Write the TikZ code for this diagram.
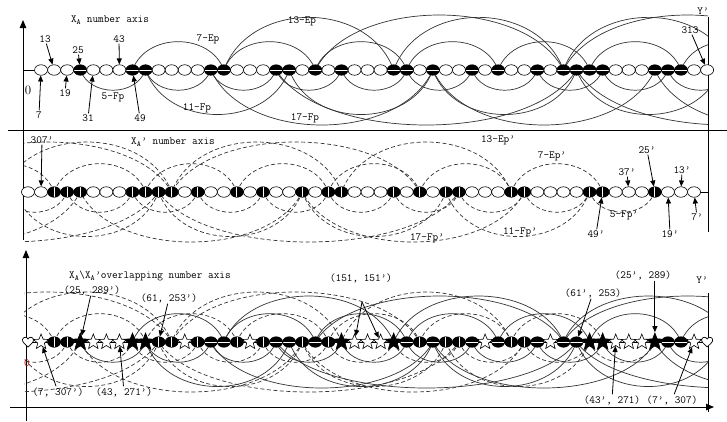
\documentclass[tikz,border=0pt]{standalone}
\usepackage{fontspec}
\usepackage{tikz}
\usetikzlibrary{arrows.meta,positioning,calc,shapes.geometric}

% prime p / index of its first composite multiple / side (1 below = Fp, -1 above = Ep)
\newcommand{\primechains}{5/4/1, 7/8/-1, 11/9/1, 13/15/-1, 17/14/1, 19/22/-1, 23/19/1}
% index k of 6k+1 for the primes and the composites up to 313
\newcommand{\primeidx}{1,2,3,5,6,7,10,11,12,13,16,17,18,21,23,25,26,27,30,32,33,35,37,38,40,45,46,47,51,52}
\newcommand{\compidx}{4,8,9,14,15,19,20,22,24,28,29,31,34,36,39,41,42,43,44,48,49,50}

\tikzset{
    oval/.style={draw, ellipse, fill=white, inner sep=0pt, minimum width=13bp, minimum height=10.5bp, line width=0.6bp},
    ovalH/.style={oval, fill=black, path picture={\draw[white, line width=0.9bp] (path picture bounding box.west) -- (path picture bounding box.east);}},
    ovalV/.style={oval, fill=black, path picture={\draw[white, line width=0.9bp] (path picture bounding box.north) -- (path picture bounding box.south);}},
    wstar/.style={draw, star, star points=5, star point ratio=2.3, minimum size=16bp, inner sep=0pt, fill=white, line width=0.6bp},
    bstar/.style={wstar, fill=black, minimum size=18bp},
    heart/.style={minimum width=14bp, minimum height=13bp, inner sep=0pt,
        path picture={\draw[fill=white, line width=0.7bp, shift={(path picture bounding box.center)}]
            (0bp,-5bp) .. controls (-3bp,-2bp) and (-6bp,0bp) .. (-5.5bp,2.5bp)
            .. controls (-5bp,5.2bp) and (-1bp,5.5bp) .. (0bp,3bp)
            .. controls (1bp,5.5bp) and (5bp,5.2bp) .. (5.5bp,2.5bp)
            .. controls (6bp,0bp) and (3bp,-2bp) .. (0bp,-5bp);}},
    lab/.style={font=\ttfamily\fontsize{11}{11}\selectfont, inner sep=1bp},
    lbl/.style={-{Triangle[length=6bp,width=5bp]}, line width=0.8bp},
    axisline/.style={line width=0.9bp},
    axisarrow/.style={axisline, -{Triangle[length=8bp,width=6.5bp]}},
    arcline/.style={line width=0.7bp, draw=black!80},
    dasharc/.style={arcline, dash pattern=on 4bp off 2.5bp},
}

\begin{document}
\begin{tikzpicture}[x=1bp, y=-1bp]
    \useasboundingbox (0,0) rectangle (727,421);

    % places on the axes: pa, pc from the left, pm, pd mirrored from the right
    \foreach \i in {0,...,80} {
        \coordinate (pa\i) at (28+13.06*\i, 70);
        \coordinate (pm\i) at (707.1-13.06*\i, 192);
        \coordinate (pc\i) at (28+13.06*\i, 342);
        \coordinate (pd\i) at (707.1-13.06*\i, 342);
    }

    % frame and axes
    \draw[axisarrow] (23,130) -- (23,20);
    \draw[axisline] (8,130) -- (727,130);
    \draw[axisline] (708,17) -- (708,232);
    \draw[axisline] (23,130) -- (23,240);
    \draw[axisarrow] (26,421) -- (26,250);
    \draw[axisarrow] (10,407) -- (714,407);
    \draw[axisline] (708,293) -- (708,412);
    \draw[line width=0.6bp] (23,70) -- (708,70);
    \draw[line width=0.6bp] (23,192) -- (708,192);
    \draw[line width=0.6bp] (26,342) -- (708,342);

    % arcs between the multiples of each prime
    \foreach \pre/\hmax/\dir/\sty/\ya/\yb in {pa/55/1/arcline/10/128, pm/50/-1/dasharc/132/252, pc/46/1/arcline/258/405, pd/50/-1/dasharc/258/405} {
        \begin{scope}
            \clip (24,\ya) rectangle (708,\yb);
            \foreach \p/\s/\side in \primechains {
                \pgfmathsetmacro{\w}{0.15*13.06*\p*\dir}
                \pgfmathsetmacro{\hh}{4/3*\side*min(0.31*13.06*\p,\hmax)}
                \foreach \k in {0,...,10} {
                    \pgfmathtruncatemacro{\ka}{\s+\k*\p}
                    \pgfmathtruncatemacro{\kb}{\ka+\p}
                    \ifnum\ka<53
                        \draw[\sty] (\pre\ka) .. controls +(\w,\hh) and +(-\w,\hh) .. (\pre\kb);
                    \fi
                }
            }
        \end{scope}
    }

    % X_A number axis
    \foreach \i in \primeidx \node[oval] (t\i) at (pa\i) {};
    \foreach \i in \compidx \node[ovalH] (t\i) at (pa\i) {};

    % X_A' number axis
    \foreach \i in \primeidx \node[oval] (m\i) at (pm\i) {};
    \foreach \i in \compidx \node[ovalV] (m\i) at (pm\i) {};

    % overlapping number axis
    \node[heart] (b0) at (pc0) {};
    \node[heart] (b52) at (pc52) {};
    \foreach \i in {1,5,6,7,12,17,25,26,27,35,40,45,46,47,51} \node[wstar] (b\i) at (pc\i) {};
    \foreach \i in {4,8,9,24,28,43,44,48} \node[bstar] (b\i) at (pc\i) {};
    \foreach \i in {14,15,19,20,22,29,31,34,36,39,41,42,49,50} \node[ovalH] (b\i) at (pc\i) {};
    \foreach \i in {2,3,10,11,13,16,18,21,23,30,32,33,37,38} \node[ovalV] (b\i) at (pc\i) {};

    % labels of the X_A axis
    \node[lab] (titleA) at (110,20) {X\textsubscript{A} number axis};
    \node[lab] (yA) at (703,11) {Y’};
    \node[font=\fontsize{13}{13}\selectfont, inner sep=0pt] (zeroA) at (28,90) {0};
    \node[lab] (n7) at (39,115) {7};
    \node[lab] (n13) at (45,39) {13};
    \node[lab] (n19) at (65,93) {19};
    \node[lab] (n25) at (78,50) {25};
    \node[lab] (n31) at (88,118) {31};
    \node[lab] (n43) at (119,39) {43};
    \node[lab] (n49) at (140,118) {49};
    \node[lab] (n313) at (690,30) {313};
    \draw[lbl] (n7) -- (t1);
    \draw[lbl] (n13) -- (t2);
    \draw[lbl] (n19) -- (t3);
    \draw[lbl] (n25) -- (t4);
    \draw[lbl] (n31) -- (t5);
    \draw[lbl] (n43) -- (t7);
    \draw[lbl] (n49) -- (t8);
    \draw[lbl] (n313) -- (t52);
    \node[lab] (fpA5) at (113,97) {5-Fp};
    \node[lab] (epA7) at (208,39) {7-Ep};
    \node[lab] (fpA11) at (197,108) {11-Fp};
    \node[lab] (epA13) at (302,21) {13-Ep};
    \node[lab] (fpA17) at (305,118) {17-Fp};

    % labels of the X_A' axis
    \node[lab] (titleB) at (173,142) {X\textsubscript{A}’ number axis};
    \node[lab] (n307b) at (42,140) {307’};
    \node[lab] (n13b) at (682,170) {13’};
    \node[lab] (n25b) at (647,150) {25’};
    \node[lab] (n37b) at (627,172) {37’};
    \node[lab] (n7b) at (697,217) {7’};
    \node[lab] (n19b) at (670,234) {19’};
    \node[lab] (n49b) at (596,234) {49’};
    \draw[lbl] (n307b) -- (m51);
    \draw[lbl] (n13b) -- (m2);
    \draw[lbl] (n25b) -- (m4);
    \draw[lbl] (n37b) -- (m6);
    \draw[lbl] (n7b) -- (m1);
    \draw[lbl] (n19b) -- (m3);
    \draw[lbl] (n49b) -- (m8);
    \node[lab] (epB13) at (498,140) {13-Ep’};
    \node[lab] (epB7) at (552,156) {7-Ep’};
    \node[lab] (fpB5) at (624,215) {5-Fp’};
    \node[lab] (fpB11) at (520,232) {11-Fp’};
    \node[lab] (fpB17) at (427,238) {17-Fp’};

    % labels of the overlapping axis
    \node[lab] (titleC) at (150,276) {X\textsubscript{A}\textbackslash X\textsubscript{A}’overlapping number axis};
    \node[lab] (yC) at (702,280) {Y’};
    \node[lab, text=red!70!black] (zeroC) at (27,363) {0};
    \node[lab] (p7) at (58,392) {(7, 307’)};
    \node[lab] (p25) at (92,290) {(25, 289’)};
    \node[lab] (p43) at (124,392) {(43, 271’)};
    \node[lab] (p61) at (169,298) {(61, 253’)};
    \node[lab] (p151) at (361,278) {(151, 151’)};
    \node[lab] (q61) at (593,293) {(61’, 253)};
    \node[lab] (q25) at (643,275) {(25’, 289)};
    \node[lab] (q43) at (612,400) {(43’, 271)};
    \node[lab] (q7) at (672,400) {(7’, 307)};
    \coordinate (fork) at (362,302);
    \draw[lbl] (p7) -- (b1);
    \draw[lbl] (p25) -- (b4);
    \draw[lbl] (p43) -- (b7);
    \draw[lbl] (p61) -- (b10);
    \draw[lbl] (fork) -- (b25);
    \draw[lbl] (fork) -- (b27);
    \draw[lbl] (q61) -- (b42);
    \draw[lbl] (q25.south -| b48) -- (b48);
    \draw[lbl] (q43) -- (b45);
    \draw[lbl] (q7) -- (b51);
\end{tikzpicture}
\end{document}
